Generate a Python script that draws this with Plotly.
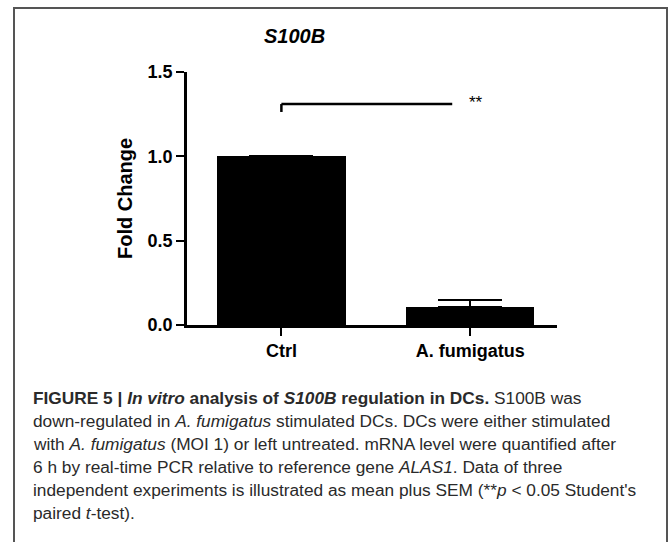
import plotly.graph_objects as go

# ---- data ----
categories = ["Ctrl", "A. fumigatus"]
fold_change = [1.0, 0.108]
sem = [0.0, 0.04]
y_ticks = [0.0, 0.5, 1.0, 1.5]
y_tick_labels = ["0.0", "0.5", "1.0", "1.5"]
bracket_y = 1.31
bracket_drop = 1.263
sig_label = "**"

W, H = 669, 542
ML, MR, MT, MB = 187, 112, 72, 217
PW, PH = W - ML - MR, H - MT - MB

def px(x):
    return (x - ML) / PW

def py(y):
    return (H - MB - y) / PH

FONT = "Liberation Sans, Arial, sans-serif"
xs = list(range(len(categories)))

fig = go.Figure()
fig.add_trace(go.Bar(
    x=xs, y=fold_change, width=0.68,
    marker=dict(color="black", line=dict(width=0)),
    error_y=dict(type="data", array=sem, arrayminus=[0] * len(sem), symmetric=False,
                 color="black", thickness=2, width=32),
    showlegend=False, hoverinfo="skip",
))

# significance bracket
fig.add_shape(type="line", xref="x", yref="y", x0=xs[0], x1=0.905, y0=bracket_y, y1=bracket_y,
              line=dict(color="black", width=2.5))
fig.add_shape(type="line", xref="x", yref="y", x0=xs[0], x1=xs[0], y0=bracket_drop, y1=bracket_y,
              line=dict(color="black", width=2.5))
fig.add_annotation(x=1.03, y=bracket_y, xref="x", yref="y", text=sig_label, showarrow=False,
                   font=dict(family=FONT, size=17, color="black"), yshift=2)

# title
fig.add_annotation(x=px(294), y=py(36), xref="paper", yref="paper", text="<b><i>S100B</i></b>",
                   showarrow=False, font=dict(family=FONT, size=20, color="black"),
                   xanchor="center", yanchor="middle")
# y title
fig.add_annotation(x=px(125), y=py(199), xref="paper", yref="paper", text="<b>Fold Change</b>",
                   textangle=-90, showarrow=False, font=dict(family=FONT, size=20, color="black"),
                   xanchor="center", yanchor="middle")

# border box
fig.add_shape(type="rect", xref="paper", yref="paper", x0=px(14), x1=px(667), y0=py(560), y1=py(8),
              line=dict(color="#555555", width=2), fillcolor="rgba(0,0,0,0)", layer="below")

caption = [
    "<b>FIGURE 5 | <i>In vitro</i> analysis of <i>S100B</i> regulation in DCs.</b> S100B was",
    "down-regulated in <i>A. fumigatus</i> stimulated DCs. DCs were either stimulated",
    "with <i>A. fumigatus</i> (MOI 1) or left untreated. mRNA level were quantified after",
    "6 h by real-time PCR relative to reference gene <i>ALAS1</i>. Data of three",
    "independent experiments is illustrated as mean plus SEM (**<i>p</i> < 0.05 Student's",
    "paired <i>t</i>-test).",
]
for i, line in enumerate(caption):
    fig.add_annotation(x=px(31), y=py(398 + 23 * i), xref="paper", yref="paper", text=line,
                       showarrow=False, xanchor="left", yanchor="middle",
                       font=dict(family=FONT, size=17.3, color="#2a2a2a"))

fig.update_layout(
    width=W, height=H,
    margin=dict(l=ML, r=MR, t=MT, b=MB, autoexpand=False),
    paper_bgcolor="white", plot_bgcolor="white",
    bargap=0,
    xaxis=dict(range=[-0.5, 1.46], tickvals=xs, ticktext=[f"<b>{c}</b>" for c in categories],
               showline=True, linecolor="black", linewidth=2.5, ticks="outside", ticklen=8,
               tickwidth=2, tickcolor="black", showgrid=False, zeroline=False,
               tickfont=dict(family=FONT, size=18, color="black"), fixedrange=True),
    yaxis=dict(range=[0, 1.5], tickvals=y_ticks, ticktext=[f"<b>{t}</b>" for t in y_tick_labels],
               showline=True, linecolor="black", linewidth=2.5, ticks="outside", ticklen=8,
               tickwidth=2, tickcolor="black", showgrid=False, zeroline=False,
               tickfont=dict(family=FONT, size=18, color="black"), fixedrange=True),
)

fig.write_html("out.html")
